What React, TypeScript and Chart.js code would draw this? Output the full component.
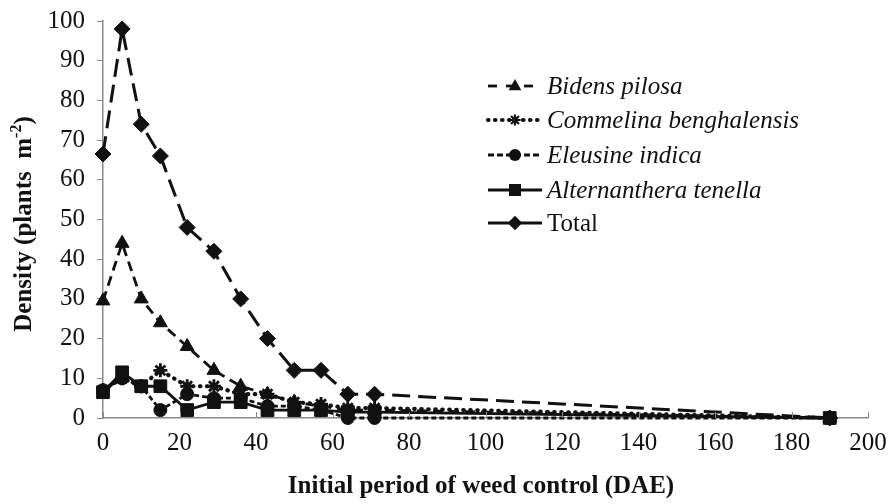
import React, { useEffect, useRef } from "react";
import { Chart, registerables } from "chart.js";

Chart.register(...registerables);

// ---- data ----
const days = [0, 5, 10, 15, 22, 29, 36, 43, 50, 57, 64, 71, 190];
const bidensPilosa = [29.5, 44, 30, 24, 18, 12, 8, 6, 4, 3, 2, 2, 0];
const commelinaBenghalensis = [7, 10, 8, 12, 8, 8, 6, 6, 4, 3.5, 2.5, 2.5, 0];
const eleusineIndica = [7, 10, 8, 2, 6, 5, 5, 3, 3, 2, 0, 0, 0];
const alternantheraTenella = [6.5, 11.5, 8, 8, 2, 4, 4, 2, 2, 2, 1.5, 1.5, 0];
const total = [66.5, 98, 74, 66, 48, 42, 30, 20, 12, 12, 6, 6, 0];
const seriesNames = [
  "Bidens pilosa",
  "Commelina benghalensis",
  "Eleusine indica",
  "Alternanthera tenella",
  "Total",
];
const seriesItalic = [true, true, true, true, false];
const xTitle = "Initial period of weed control (DAE)";
const yTitleMain = "Density (plants  m";
const yTitleSup = "-2";
const yTitleEnd = ")";

const SERIF = "'Liberation Serif', 'Times New Roman', serif";
const INK = "#111111";
const AXIS = "#8a8a8a";

type Style = {
  dash: number[];
  legendDash: number[];
  width: number;
  cap: CanvasLineCap;
  point: string;
  radius: number;
};

const styles: Style[] = [
  { dash: [10, 6], legendDash: [9, 9], width: 2.8, cap: "butt", point: "triangle", radius: 8 },
  { dash: [0.5, 6.5], legendDash: [0.5, 6.5], width: 4.2, cap: "round", point: "star", radius: 7 },
  { dash: [5, 3], legendDash: [6, 3], width: 2.8, cap: "butt", point: "circle", radius: 6.5 },
  { dash: [], legendDash: [], width: 2.8, cap: "butt", point: "rect", radius: 9 },
  { dash: [18, 8], legendDash: [], width: 3, cap: "butt", point: "rectRot", radius: 8 },
];

function drawMarker(ctx: CanvasRenderingContext2D, kind: string, x: number, y: number, r: number) {
  ctx.save();
  ctx.setLineDash([]);
  ctx.fillStyle = INK;
  ctx.strokeStyle = INK;
  ctx.beginPath();
  if (kind === "triangle") {
    ctx.moveTo(x, y - r);
    ctx.lineTo(x + r * 0.9, y + r * 0.6);
    ctx.lineTo(x - r * 0.9, y + r * 0.6);
    ctx.closePath();
    ctx.fill();
  } else if (kind === "circle") {
    ctx.arc(x, y, r * 0.8, 0, Math.PI * 2);
    ctx.fill();
  } else if (kind === "rect") {
    ctx.rect(x - r * 0.75, y - r * 0.75, r * 1.5, r * 1.5);
    ctx.fill();
  } else if (kind === "rectRot") {
    ctx.moveTo(x, y - r * 0.8);
    ctx.lineTo(x + r * 0.8, y);
    ctx.lineTo(x, y + r * 0.8);
    ctx.lineTo(x - r * 0.8, y);
    ctx.closePath();
    ctx.fill();
  } else if (kind === "star") {
    ctx.lineWidth = 2.2;
    for (let i = 0; i < 4; i++) {
      const a = (i * Math.PI) / 4;
      ctx.moveTo(x - Math.cos(a) * r * 0.8, y - Math.sin(a) * r * 0.8);
      ctx.lineTo(x + Math.cos(a) * r * 0.8, y + Math.sin(a) * r * 0.8);
    }
    ctx.stroke();
  }
  ctx.restore();
}

const legendMarkerSize = [7, 7, 7.5, 8, 9];

const decorPlugin = {
  id: "decor",
  afterDraw(chart: any) {
    const ctx: CanvasRenderingContext2D = chart.ctx;
    const area = chart.chartArea;
    const xs = chart.scales.x;

    // inward x ticks
    ctx.save();
    ctx.strokeStyle = AXIS;
    ctx.lineWidth = 1;
    xs.ticks.forEach((t: any) => {
      const px = Math.round(xs.getPixelForValue(t.value)) + 0.5;
      ctx.beginPath();
      ctx.moveTo(px, area.bottom);
      ctx.lineTo(px, area.bottom - 6);
      ctx.stroke();
    });
    ctx.restore();

    // x title
    ctx.save();
    ctx.fillStyle = INK;
    ctx.font = `bold 25px ${SERIF}`;
    ctx.textAlign = "center";
    ctx.textBaseline = "middle";
    ctx.fillText(xTitle, 481, 487);
    ctx.restore();

    // y title with superscript
    ctx.save();
    ctx.translate(25, 224);
    ctx.rotate(-Math.PI / 2);
    ctx.fillStyle = INK;
    ctx.textBaseline = "middle";
    ctx.textAlign = "left";
    const mainFont = `bold 25px ${SERIF}`;
    const supFont = `bold 16px ${SERIF}`;
    ctx.font = mainFont;
    const w1 = ctx.measureText(yTitleMain).width;
    const w3 = ctx.measureText(yTitleEnd).width;
    ctx.font = supFont;
    const w2 = ctx.measureText(yTitleSup).width;
    const totalW = w1 + w2 + w3;
    let cx = -totalW / 2;
    ctx.font = mainFont;
    ctx.fillText(yTitleMain, cx, 0);
    cx += w1;
    ctx.font = supFont;
    ctx.fillText(yTitleSup, cx, -8);
    cx += w2;
    ctx.font = mainFont;
    ctx.fillText(yTitleEnd, cx, 0);
    ctx.restore();

    // legend
    const lx0 = 488;
    const lx1 = 542;
    const rows = [86, 120, 155, 190, 223];
    seriesNames.forEach((name, i) => {
      const s = styles[i];
      const y = rows[i];
      ctx.save();
      ctx.strokeStyle = INK;
      ctx.lineWidth = s.width;
      ctx.lineCap = s.cap;
      ctx.setLineDash(s.legendDash);
      ctx.beginPath();
      ctx.moveTo(lx0, y);
      ctx.lineTo(lx1, y);
      ctx.stroke();
      ctx.restore();
      drawMarker(ctx, s.point, (lx0 + lx1) / 2, y, legendMarkerSize[i]);
      ctx.save();
      ctx.fillStyle = INK;
      ctx.font = `${seriesItalic[i] ? "italic " : ""}25px ${SERIF}`;
      ctx.textBaseline = "middle";
      ctx.textAlign = "left";
      ctx.fillText(name, 547, y + 1);
      ctx.restore();
    });
  },
};

export default function App() {
  const ref = useRef<HTMLCanvasElement | null>(null);

  useEffect(() => {
    if (!ref.current) return;
    const all = [bidensPilosa, commelinaBenghalensis, eleusineIndica, alternantheraTenella, total];
    const datasets = all.map((vals, i) => {
      const s = styles[i];
      return {
        label: seriesNames[i],
        data: days.map((d, j) => ({ x: d, y: vals[j] })),
        borderColor: INK,
        backgroundColor: INK,
        borderWidth: s.width,
        borderDash: s.dash,
        borderCapStyle: s.cap,
        pointStyle: s.point,
        pointRadius: s.radius,
        pointBackgroundColor: INK,
        pointBorderColor: INK,
        pointBorderWidth: s.point === "star" ? 2.8 : 1,
        tension: 0,
        fill: false,
        clip: false as any,
      };
    });

    const chart = new Chart(ref.current, {
      type: "line",
      data: { datasets },
      options: {
        animation: false,
        responsive: true,
        maintainAspectRatio: false,
        layout: { padding: { top: 21, right: 22, left: 0, bottom: 0 } },
        plugins: {
          legend: { display: false },
          tooltip: { enabled: false },
        },
        scales: {
          x: {
            type: "linear",
            min: 0,
            max: 200,
            ticks: {
              stepSize: 20,
              color: INK,
              font: { family: SERIF, size: 25 },
              padding: 10,
              maxRotation: 0,
            },
            grid: { display: false, drawTicks: false },
            border: { display: true, color: AXIS, width: 1.5 },
            afterFit: (scale: any) => {
              scale.height = 86;
              scale.paddingLeft = 0;
              scale.paddingRight = 0;
            },
          },
          y: {
            min: 0,
            max: 100,
            ticks: {
              stepSize: 10,
              color: INK,
              font: { family: SERIF, size: 25 },
              padding: 12,
            },
            grid: {
              drawOnChartArea: false,
              drawTicks: true,
              tickLength: 6,
              color: AXIS,
            },
            border: { display: true, color: AXIS, width: 1.5 },
            afterFit: (scale: any) => {
              scale.width = 103;
              scale.paddingTop = 0;
              scale.paddingBottom = 0;
            },
          },
        },
      },
      plugins: [decorPlugin],
    });
    return () => chart.destroy();
  }, []);

  return (
    <div style={{ position: "fixed", left: 0, top: 0, width: 890, height: 504, background: "#fff" }}>
      <canvas ref={ref} />
    </div>
  );
}
